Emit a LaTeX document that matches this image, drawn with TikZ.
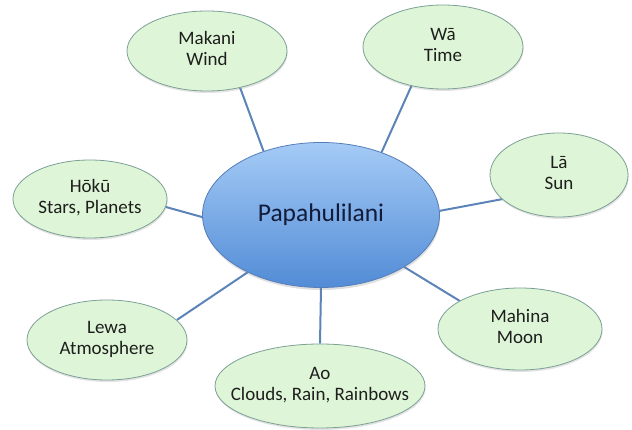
\documentclass[tikz,border=0pt]{standalone}
\usepackage{fontspec}
\setmainfont{Carlito}
\usetikzlibrary{shapes.geometric,shadows,backgrounds}

\definecolor{leaffill}{RGB}{222,246,215}
\definecolor{leafedge}{RGB}{125,160,150}
\definecolor{hubtop}{RGB}{165,203,246}
\definecolor{hubbot}{RGB}{82,140,214}
\definecolor{hubedge}{RGB}{85,125,185}
\definecolor{spoke}{RGB}{92,132,184}
\definecolor{inktext}{RGB}{30,30,30}
\definecolor{hubtext}{RGB}{18,28,58}

% centred multi-line text that does not widen the ellipse
\newcommand{\bubtext}[1]{\makebox[0pt]{\begin{tabular}{@{}c@{}}#1\end{tabular}}}

\tikzset{
  leaf/.style={ellipse, draw=leafedge, line width=0.8pt, fill=leaffill,
    inner sep=0pt, text=inktext,
    font=\fontsize{19}{21}\selectfont,
    drop shadow={shadow xshift=0.6pt, shadow yshift=-2pt, opacity=0.22}},
  hub/.style={ellipse, draw=hubedge, line width=0.8pt,
    top color=hubtop, bottom color=hubbot,
    inner sep=0pt, text=hubtext,
    minimum width=237pt, minimum height=145pt,
    font=\fontsize{25.5}{30}\selectfont,
    drop shadow={shadow xshift=0.6pt, shadow yshift=-2.5pt, opacity=0.25}},
  link/.style={draw=spoke, line width=2pt}
}

\begin{document}
\begin{tikzpicture}[x=1pt,y=1pt]
  \useasboundingbox (0,0) rectangle (632,430);

  \node[hub] (hub) at (321,215) {Papahulilani};

  \node[leaf, minimum width=160pt, minimum height=80pt] (makani) at (207,379)
    {\bubtext{Makani\\Wind}};
  \node[leaf, minimum width=160pt, minimum height=84pt] (wa) at (443,383)
    {\bubtext{Wā\\Time}};
  \node[leaf, minimum width=154pt, minimum height=78pt] (hoku) at (90,231)
    {\bubtext{Hōkū\\Stars, Planets}};
  \node[leaf, minimum width=138pt, minimum height=84pt] (la) at (559,255)
    {\bubtext{Lā\\Sun}};
  \node[leaf, minimum width=164pt, minimum height=82pt] (mahina) at (520,101)
    {\bubtext{Mahina\\Moon}};
  \node[leaf, minimum width=210pt, minimum height=84pt] (ao) at (320,44)
    {\bubtext{Ao\\Clouds, Rain, Rainbows}};
  \node[leaf, minimum width=160pt, minimum height=80pt] (lewa) at (107,90)
    {\bubtext{Lewa\\Atmosphere}};

  \begin{scope}[on background layer]
    \fill[white] (0,0) rectangle (632,430);
    \draw[link] (hub.132.6) -- (makani.-48);
    \draw[link] (hub.46.9)  -- (wa.231);
    \draw[link] (hub.181)   -- (hoku.-6.5);
    \draw[link] (hub.2)     -- (la.203);
    \draw[link] (hub.-32)   -- (mahina.155);
    \draw[link] (hub.-90)   -- (ao.90);
    \draw[link] (hub.218)   -- (lewa.16);
  \end{scope}
\end{tikzpicture}
\end{document}
